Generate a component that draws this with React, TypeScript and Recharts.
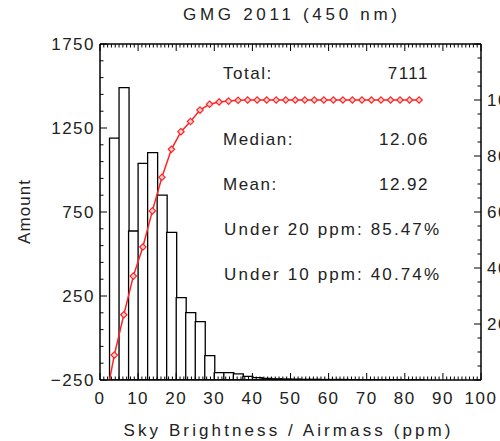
import { Bar, ComposedChart, Line, XAxis, YAxis } from "recharts";

const FONT = "'Liberation Sans', Arial, Helvetica, sans-serif";
const INK = "#222";
const RED = "#ff2424";

// histogram bins, 2.5 ppm wide (left edge of each bin)
const binStart = [
  0, 2.5, 5, 7.5, 10, 12.5, 15, 17.5, 20, 22.5, 25, 27.5, 30, 32.5, 35, 37.5,
  40, 42.5, 45, 47.5, 50, 52.5, 55, 57.5, 60, 62.5, 65, 67.5, 70, 72.5, 75,
  77.5, 80, 82.5, 85, 87.5, 90, 92.5, 95, 97.5,
];
// bar tops as read on the left axis (bars stand on the -250 floor)
const amount = [
  -250, 1190, 1490, 637, 1040, 1103, 851, 629, 240, 151, 97, -105, -206, -206,
  -214, -228, -236, -240, -243, -244, -245, -246, -246, -247, -247, -247, -248,
  -248, -248, -248, -248, -248, -249, -249, -250, -250, -250, -250, -250, -250,
];
// cumulative percentage (right axis), one point per bin centre
const cumulative = [
  -9, 8.9, 23.3, 37.1, 47.5, 60.4, 72.4, 82.4, 88.7, 92.3, 96.4, 98.5, 99.3,
  99.6, 99.9, 100, 100, 100, 100, 100, 100, 100, 100, 100, 100, 100, 100, 100,
  100, 100, 100, 100, 100, 100, null, null, null, null, null, null,
];

const xLabels = [0, 10, 20, 30, 40, 50, 60, 70, 80, 90, 100];
const leftLabels = [-250, 250, 750, 1250, 1750];
const rightLabels = [20, 40, 60, 80, 100];

const statNames = ["Total:", "Median:", "Mean:"];
const statValues = ["7111", "12.06", "12.92"];
const underLines = ["Under 20 ppm: 85.47%", "Under 10 ppm: 40.74%"];

const steps = (from: number, to: number, step: number) =>
  Array.from({ length: Math.round((to - from) / step) + 1 }, (_, i) => from + i * step);

const rows = binStart.map((b, i) => ({
  bin: b,
  amount: [-250, amount[i]],
  cumulative: cumulative[i],
}));

const tickText = {
  fontFamily: FONT,
  fontSize: 17,
  fill: INK,
  letterSpacing: 1.5,
};

function BottomTick({ x, y, payload }: any) {
  const v = payload.value;
  const major = xLabels.includes(v);
  return (
    <g>
      <line x1={x} x2={x} y1={y} y2={y - (major ? 7 : 3.5)} stroke="#000" />
      {major && (
        <text x={x} y={y + 24} textAnchor="middle" {...tickText}>
          {v}
        </text>
      )}
    </g>
  );
}

function TopTick({ x, y, payload }: any) {
  const major = xLabels.includes(payload.value);
  return <line x1={x} x2={x} y1={y} y2={y + (major ? 7 : 3.5)} stroke="#000" />;
}

function LeftTick({ x, y, payload }: any) {
  const v = payload.value;
  const major = leftLabels.includes(v);
  return (
    <g>
      <line x1={x} x2={x + (major ? 7 : 3.5)} y1={y} y2={y} stroke="#000" />
      {major && (
        <text x={x - 5} y={y + 6} textAnchor="end" {...tickText}>
          {v < 0 ? "\u2212" + Math.abs(v) : v}
        </text>
      )}
    </g>
  );
}

function RightTick({ x, y, payload }: any) {
  const v = payload.value;
  const major = v % 20 === 0;
  return (
    <g>
      <line x1={x} x2={x - (major ? 7 : 3.5)} y1={y} y2={y} stroke="#000" />
      {rightLabels.includes(v) && (
        <text x={x + 6} y={y + 6} textAnchor="start" {...tickText}>
          {v}
        </text>
      )}
    </g>
  );
}

function Diamond({ cx, cy, index }: any) {
  if (cx == null || cy == null || isNaN(cy)) return <g key={index} />;
  const r = 3.2;
  return (
    <path
      key={index}
      d={`M${cx},${cy - r}L${cx + r},${cy}L${cx},${cy + r}L${cx - r},${cy}Z`}
      fill="#ffd0d0"
      stroke={RED}
      strokeWidth={1.2}
    />
  );
}

function Labels() {
  const t = { fontFamily: FONT, fontSize: 17, fill: INK };
  return (
    <svg
      width={500}
      height={441}
      style={{ position: "absolute", left: 0, top: 0, pointerEvents: "none" }}
    >
      <text x={290} y={20} textAnchor="middle" textLength={214} {...t}>
        GMG 2011 (450 nm)
      </text>
      <text x={287} y={436} textAnchor="middle" textLength={327} {...t}>
        Sky Brightness / Airmass (ppm)
      </text>
      <text
        x={0}
        y={0}
        textAnchor="middle"
        transform="translate(30,212) rotate(-90)"
        textLength={64}
        {...t}
      >
        Amount
      </text>
      {statNames.map((name, i) => (
        <g key={name}>
          <text x={223} y={[79, 145, 190][i]} {...t} letterSpacing={1.5}>
            {name}
          </text>
          <text x={429} y={[79, 145, 190][i]} textAnchor="end" {...t} letterSpacing={1.5}>
            {statValues[i]}
          </text>
        </g>
      ))}
      {underLines.map((line, i) => (
        <text key={line} x={224} y={[235, 280][i]} textLength={215} {...t}>
          {line}
        </text>
      ))}
    </svg>
  );
}

export default function App() {
  return (
    <div
      style={{
        position: "absolute",
        left: 0,
        top: 0,
        width: 500,
        height: 441,
        background: "#fff",
        overflow: "hidden",
      }}
    >
      <ComposedChart
        width={500}
        height={441}
        data={rows}
        margin={{ top: 14, right: 0, bottom: 0, left: 0 }}
        barCategoryGap={0}
        barGap={0}
      >
        <XAxis xAxisId="c" dataKey="bin" type="category" hide />
        <XAxis
          xAxisId="b"
          dataKey="bin"
          type="number"
          domain={[0, 100]}
          allowDataOverflow
          ticks={steps(0, 100, 1)}
          interval={0}
          height={61}
          tickSize={0}
          tickMargin={0}
          tickLine={false}
          axisLine={{ stroke: "#000", strokeWidth: 1.5 }}
          tick={<BottomTick />}
        />
        <XAxis
          xAxisId="t"
          dataKey="bin"
          orientation="top"
          type="number"
          domain={[0, 100]}
          allowDataOverflow
          ticks={steps(0, 100, 1)}
          interval={0}
          height={30}
          tickSize={0}
          tickMargin={0}
          tickLine={false}
          axisLine={{ stroke: "#000", strokeWidth: 1.5 }}
          tick={<TopTick />}
        />
        <YAxis
          yAxisId="l"
          type="number"
          domain={[-250, 1750]}
          allowDataOverflow
          ticks={steps(-250, 1750, 100)}
          interval={0}
          width={100}
          tickSize={0}
          tickMargin={0}
          tickLine={false}
          axisLine={{ stroke: "#000", strokeWidth: 1.5 }}
          tick={<LeftTick />}
        />
        <YAxis
          yAxisId="r"
          orientation="right"
          type="number"
          domain={[0, 120]}
          allowDataOverflow
          ticks={steps(0, 120, 5)}
          interval={0}
          width={19}
          tickSize={0}
          tickMargin={0}
          tickLine={false}
          axisLine={{ stroke: "#000", strokeWidth: 1.5 }}
          tick={<RightTick />}
        />
        <Bar
          xAxisId="c"
          yAxisId="l"
          dataKey="amount"
          fill="#fff"
          stroke="#000"
          strokeWidth={1.3}
          isAnimationActive={false}
        />
        <Line
          xAxisId="c"
          yAxisId="r"
          dataKey="cumulative"
          stroke={RED}
          strokeWidth={1.5}
          dot={Diamond}
          activeDot={false}
          connectNulls={false}
          isAnimationActive={false}
        />
      </ComposedChart>
      <Labels />
    </div>
  );
}
